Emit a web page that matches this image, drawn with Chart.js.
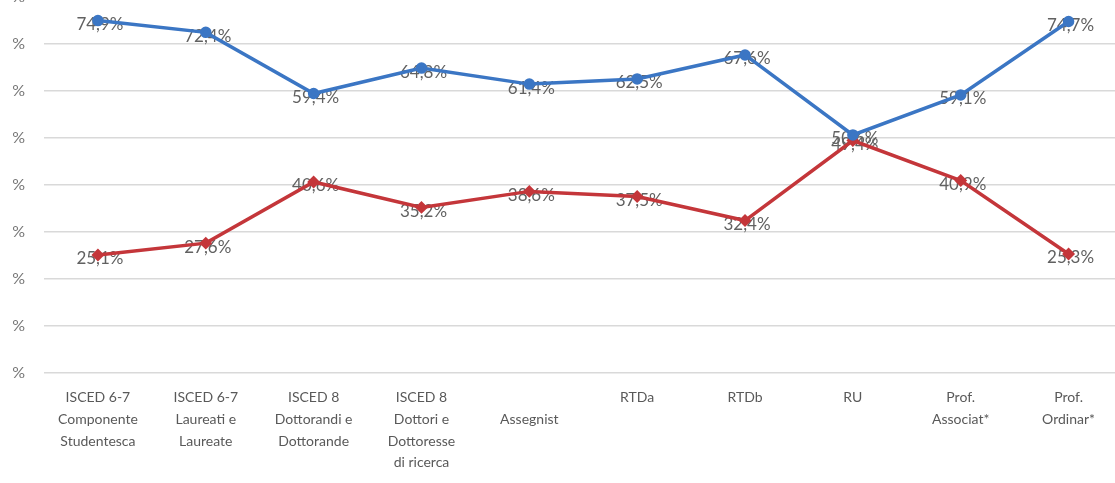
<!DOCTYPE html>
<html>
<head>
<meta charset="utf-8">
<script src="https://cdn.jsdelivr.net/npm/chart.js@4/dist/chart.umd.min.js"></script>
<style>
  html, body { margin: 0; padding: 0; background: #ffffff; overflow: hidden; width: 1115px; height: 483px; }
  #wrap { position: absolute; left: 0; top: -32px; width: 1130px; height: 516px; }
</style>
</head>
<body>
<div id="wrap"><canvas id="chart"></canvas></div>
<script>
// Role categories along the career path (multi-line axis labels)
const categories = [
  ["ISCED 6-7", "Componente", "Studentesca"],
  ["ISCED 6-7", "Laureati e", "Laureate"],
  ["ISCED 8", "Dottorandi e", "Dottorande"],
  ["ISCED 8", "Dottori e", "Dottoresse", "di ricerca"],
  ["", "Assegnist"],
  "RTDa",
  "RTDb",
  "RU",
  ["Prof.", "Associat*"],
  ["Prof.", "Ordinar*"]
];

// Share per category (%)
const seriesBlue = [74.9, 72.4, 59.4, 64.8, 61.4, 62.5, 67.6, 50.6, 59.1, 74.7];
const seriesRed  = [25.1, 27.6, 40.6, 35.2, 38.6, 37.5, 32.4, 49.4, 40.9, 25.3];

// Y axis tick values (%)
const yTicks = [0, 10, 20, 30, 40, 50, 60, 70, 80];

const fmt = v => v.toFixed(1).replace('.', ',') + '%';

// Value labels centred on each point
const valueLabels = {
  id: 'valueLabels',
  beforeDatasetsDraw(chart) {
    const ctx = chart.ctx;
    ctx.save();
    ctx.font = '17px Lato, "Open Sans", sans-serif';
    ctx.fillStyle = '#616161';
    ctx.textAlign = 'center';
    ctx.textBaseline = 'middle';
    chart.data.datasets.forEach((ds, di) => {
      const meta = chart.getDatasetMeta(di);
      meta.data.forEach((pt, i) => {
        ctx.fillText(fmt(ds.data[i]), pt.x + 2, pt.y + 4);
      });
    });
    ctx.restore();
  }
};

new Chart(document.getElementById('chart'), {
  type: 'line',
  data: {
    labels: categories,
    datasets: [
      {
        data: seriesBlue,
        borderColor: '#3b76c4',
        backgroundColor: '#3b76c4',
        borderWidth: 3.5,
        pointRadius: 4,
        pointHoverRadius: 4,
        tension: 0
      },
      {
        data: seriesRed,
        borderColor: '#c4363a',
        backgroundColor: '#c4363a',
        borderWidth: 3.5,
        pointRadius: 4,
        pointStyle: 'rectRot',
        pointHoverRadius: 4,
        tension: 0
      }
    ]
  },
  options: {
    responsive: true,
    maintainAspectRatio: false,
    animation: false,
    layout: { padding: { top: 14, right: 3, left: 0, bottom: 0 } },
    plugins: {
      legend: { display: false },
      tooltip: { enabled: false }
    },
    scales: {
      x: {
        offset: true,
        grid: { display: false, offset: true },
        border: { display: false },
        ticks: {
          color: '#595959',
          font: { family: 'Lato, "Open Sans", sans-serif', size: 14, lineHeight: 1.55 },
          padding: 6,
          maxRotation: 0,
          autoSkip: false
        },
        afterFit(axis) { axis.height = 111; }
      },
      y: {
        min: 0,
        max: 80,
        afterBuildTicks(axis) { axis.ticks = yTicks.map(v => ({ value: v })); },
        grid: { color: '#d9d9d9', lineWidth: 1.5, drawTicks: false },
        border: { display: false },
        ticks: {
          color: '#767676',
          font: { family: 'Lato, "Open Sans", sans-serif', size: 16 },
          padding: 19,
          callback: () => '%'
        },
        afterFit(axis) { axis.width = 44; }
      }
    }
  },
  plugins: [valueLabels]
});
</script>
</body>
</html>
